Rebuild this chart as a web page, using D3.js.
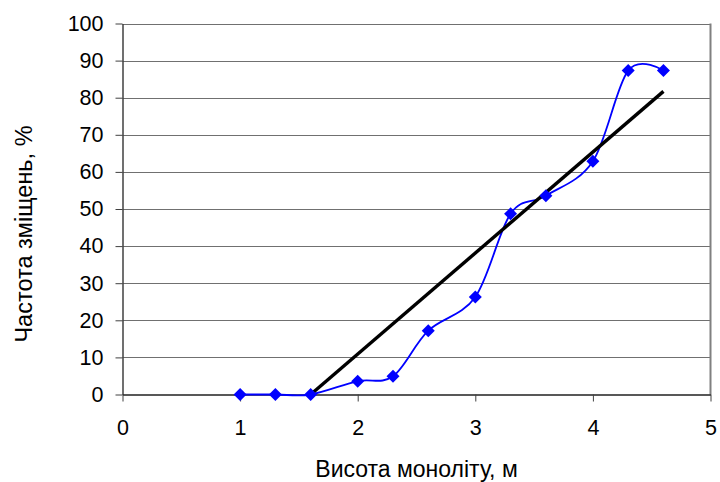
<!DOCTYPE html>
<html>
<head>
<meta charset="utf-8">
<script src="https://cdn.jsdelivr.net/npm/d3@7"></script>
<style>
  body { margin: 0; background: #fff; }
  text { font-family: "Liberation Sans", Arial, sans-serif; fill: #000; }
</style>
</head>
<body>
<svg id="chart" width="720" height="482"></svg>
<script>
// data
let heights = [1, 1.3, 1.6, 2, 2.3, 2.6, 3, 3.3, 3.6, 4, 4.3, 4.6];
let freq = [0, 0, 0, 3.6, 4.9, 17.2, 26.3, 48.7, 53.6, 62.9, 87.3, 87.3];
let trendX = [1.6, 4.6];
let trendY = [0, 81.7];
let xTicks = [0, 1, 2, 3, 4, 5];
let yTicks = [0, 10, 20, 30, 40, 50, 60, 70, 80, 90, 100];

let chart = d3.select("#chart");
let plotLeft = 122.5, plotRight = 710.5, plotTop = 23.5, plotBottom = 394.5;

let x = d3.scaleLinear().domain([0, 5]).range([plotLeft, plotRight]);
let y = d3.scaleLinear().domain([0, 100]).range([plotBottom, plotTop]);

//gridlines
chart.append("g").selectAll("line")
    .data(yTicks.slice(1))
    .enter()
    .append("line")
        .attr("x1", plotLeft).attr("x2", plotRight)
        .attr("y1", d => Math.round(y(d)) + 0.5)
        .attr("y2", d => Math.round(y(d)) + 0.5)
        .attr("stroke", "#707070")
        .attr("stroke-width", 1.2);

//right border
chart.append("line")
    .attr("x1", plotRight).attr("x2", plotRight)
    .attr("y1", plotTop).attr("y2", plotBottom)
    .attr("stroke", "#808080").attr("stroke-width", 2);

//y axis
let yAxis = chart.append("g")
    .attr("transform", "translate(" + plotLeft + ",0)")
    .call(d3.axisLeft(y).tickValues(yTicks).tickFormat(d3.format("d"))
        .tickSize(7).tickPadding(12).tickSizeOuter(0));
yAxis.select(".domain").attr("stroke", "#404040").attr("stroke-width", 1.5);
yAxis.selectAll(".tick line").attr("stroke", "#404040");
yAxis.selectAll("text").attr("font-size", "21.5px").attr("fill", "#000")
    .style("font-family", "'Liberation Sans', Arial, sans-serif");

//x axis
let xAxis = chart.append("g")
    .attr("transform", "translate(0," + plotBottom + ")")
    .call(d3.axisBottom(x).tickValues(xTicks).tickFormat(d3.format("d"))
        .tickSize(7).tickPadding(18).tickSizeOuter(0));
xAxis.select(".domain").attr("stroke", "#202020").attr("stroke-width", 1.5);
xAxis.selectAll(".tick line").attr("stroke", "#404040");
xAxis.selectAll("text").attr("font-size", "21.5px").attr("fill", "#000")
    .style("font-family", "'Liberation Sans', Arial, sans-serif");

//axis titles
chart.append("text")
    .attr("text-anchor", "middle")
    .attr("font-size", "23px")
    .attr("x", (plotLeft + plotRight) / 2)
    .attr("y", 477)
    .text("Висота моноліту, м");

chart.append("text")
    .attr("text-anchor", "middle")
    .attr("font-size", "23.5px")
    .attr("transform", "translate(32,234) rotate(-90)")
    .text("Частота зміщень, %");

//smoothed data line
let pts = heights.map((h, i) => [h, freq[i]]);
let line = d3.line()
    .x(d => x(d[0]))
    .y(d => y(d[1]))
    .curve(d3.curveCardinal.tension(0));

chart.append("path")
    .datum(pts)
    .attr("d", line)
    .attr("fill", "none")
    .attr("stroke", "#0000ff")
    .attr("stroke-width", 1.8);

//trend line
chart.append("path")
    .datum(trendX.map((t, i) => [t, trendY[i]]))
    .attr("d", d3.line().x(d => x(d[0])).y(d => y(d[1])))
    .attr("fill", "none")
    .attr("stroke", "#000")
    .attr("stroke-width", 3.4);

//diamond markers
chart.selectAll("markers")
    .data(pts)
    .enter()
    .append("path")
        .attr("transform", d => "translate(" + x(d[0]) + "," + y(d[1]) + ")")
        .attr("d", "M0,-6.5L6.5,0L0,6.5L-6.5,0Z")
        .attr("fill", "#0000ff");
</script>
</body>
</html>
